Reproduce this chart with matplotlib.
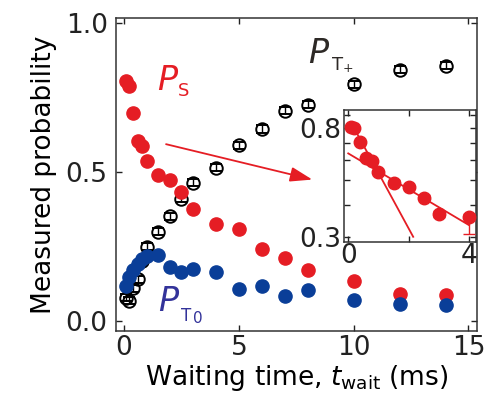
import matplotlib
matplotlib.use('Agg')
import matplotlib.pyplot as plt
from matplotlib.ticker import FixedLocator, FixedFormatter, NullLocator

plt.rcParams['font.family'] = 'DejaVu Sans'
plt.rcParams['mathtext.fontset'] = 'dejavusans'

red = '#e51d24'
blue = '#0a3e98'

# waiting times (ms)
t_wait = [0.08, 0.2, 0.4, 0.6, 0.8, 1.0, 1.5, 2.0, 2.5, 3.0, 4.0,
          5, 6, 7, 8, 10, 12, 14]
p_s = [0.808, 0.79, 0.698, 0.605, 0.588, 0.537, 0.490, 0.475, 0.433, 0.376,
       0.326, 0.309, 0.242, 0.213, 0.172, 0.134, 0.092, 0.088]
p_t0 = [0.118, 0.148, 0.172, 0.192, 0.207, 0.218, 0.222, 0.180, 0.163, 0.173,
        0.163, 0.106, 0.117, 0.084, 0.104, 0.071, 0.056, 0.054]
p_tp = [0.078, 0.068, 0.11, 0.14, 0.20, 0.25, 0.30, 0.352, 0.41, 0.465,
        0.515, 0.59, 0.645, 0.707, 0.726, 0.795, 0.845, 0.858]
err_tp = [0.012] * 18

# inset (log scale) values
ins_p = [0.807, 0.795, 0.701, 0.607, 0.593, 0.538, 0.488, 0.470, 0.427,
         0.368, 0.357]
ins_err_lo = [0.01] * 10 + [0.048]
ins_err_hi = [0.01] * 11
fit_fast_t = [0.1, 2.15]
fit_fast_p = [0.835, 0.30]
fit_slow_t = [0.0, 4.0]
fit_slow_p = [0.635, 0.333]

fig = plt.figure(figsize=(4.85, 3.96), dpi=100)
ax = fig.add_axes([0.2392, 0.1641, 0.7433, 0.7896])

ax.errorbar(t_wait, p_tp, yerr=err_tp, fmt='o', ms=9, mfc='none', mec='black',
            mew=1.4, ecolor='black', elinewidth=1.0, capsize=4, capthick=1.0,
            zorder=2)
ax.plot(t_wait, p_s, 'o', ms=9.5, color=red, mec=red, zorder=3)
ax.plot(t_wait, p_t0, 'o', ms=9.5, color=blue, mec=blue, zorder=4)

ax.set_xlim(-0.35, 15.35)
ax.set_ylim(-0.034, 1.017)
ax.set_xticks([0, 5, 10, 15])
ax.set_yticks([0.0, 0.5, 1.0])
ax.set_yticklabels(['0.0', '0.5', '1.0'])
ax.tick_params(direction='in', length=4, width=1, top=True, right=True,
               labelsize=19, colors='#222222')
ax.tick_params(axis='y', pad=6)
ax.tick_params(axis='x', pad=3)
for sp in ax.spines.values():
    sp.set_linewidth(1.1)
    sp.set_color('#333333')

ax.set_xlabel('Waiting time, $t_{\\mathrm{wait}}$ (ms)', fontsize=19, labelpad=1)
ax.set_ylabel('Measured probability', fontsize=19, labelpad=6)

# series labels
ax.text(1.42, 0.777, 'P', color=red, fontsize=24, style='italic')
ax.annotate('S', xy=(1.42, 0.777), xytext=(15.5, -4.8),
            textcoords='offset points', color=red, fontsize=13)
ax.text(8.0, 0.866, 'P', color='#2d2926', fontsize=24, style='italic')
ax.annotate('T', xy=(8.0, 0.866), xytext=(17.8, -4.8),
            textcoords='offset points', color='#2d2926', fontsize=13)
ax.annotate('+', xy=(8.0, 0.866), xytext=(25, -6.5),
            textcoords='offset points', color='#2d2926', fontsize=9)
ax.text(1.48, 0.0335, 'P', color='#33339a', fontsize=24, style='italic')
ax.annotate('T', xy=(1.48, 0.0335), xytext=(16.5, -7.2),
            textcoords='offset points', color='#33339a', fontsize=12)
ax.annotate('0', xy=(1.48, 0.0335), xytext=(25.5, -8.4),
            textcoords='offset points', color='#33339a', fontsize=11)

ax.annotate('', xy=(8.2, 0.475), xytext=(1.83, 0.594),
            arrowprops=dict(arrowstyle='-|>,head_length=1.35,head_width=0.45',
                            color=red, lw=1.3, shrinkA=0, shrinkB=0))

# inset
ins = fig.add_axes([0.7093, 0.3896, 0.2722, 0.3326])
ins.plot(fit_fast_t, fit_fast_p, '-', color=red, lw=1.3, zorder=2)
ins.plot(fit_slow_t, fit_slow_p, '-', color=red, lw=1.3, zorder=2)
ins.errorbar(t_wait[:11], ins_p, yerr=[ins_err_lo, ins_err_hi], fmt='o', ms=9,
             color=red, mec=red, ecolor=red, elinewidth=1.0, capsize=4.5,
             capthick=1.0, zorder=3, clip_on=False)
ins.set_yscale('log')
ins.set_xlim(-0.14, 4.23)
ins.set_ylim(0.287, 0.938)
ins.set_xticks([0, 2, 4])
ins.set_xticklabels(['0', '', '4'])
ins.yaxis.set_major_locator(FixedLocator([0.3, 0.4, 0.5, 0.6, 0.7, 0.8, 0.9]))
ins.yaxis.set_major_formatter(FixedFormatter(['0.3', '', '', '', '', '0.8', '']))
ins.yaxis.set_minor_locator(NullLocator())
ins.tick_params(direction='in', length=4, width=1, top=True, right=True,
                labelsize=19, colors='#222222')
ins.tick_params(axis='y', pad=2)
ins.tick_params(axis='x', pad=1)
for sp in ins.spines.values():
    sp.set_linewidth(1.1)
    sp.set_color('#333333')

fig.savefig('out.png', dpi=100)
